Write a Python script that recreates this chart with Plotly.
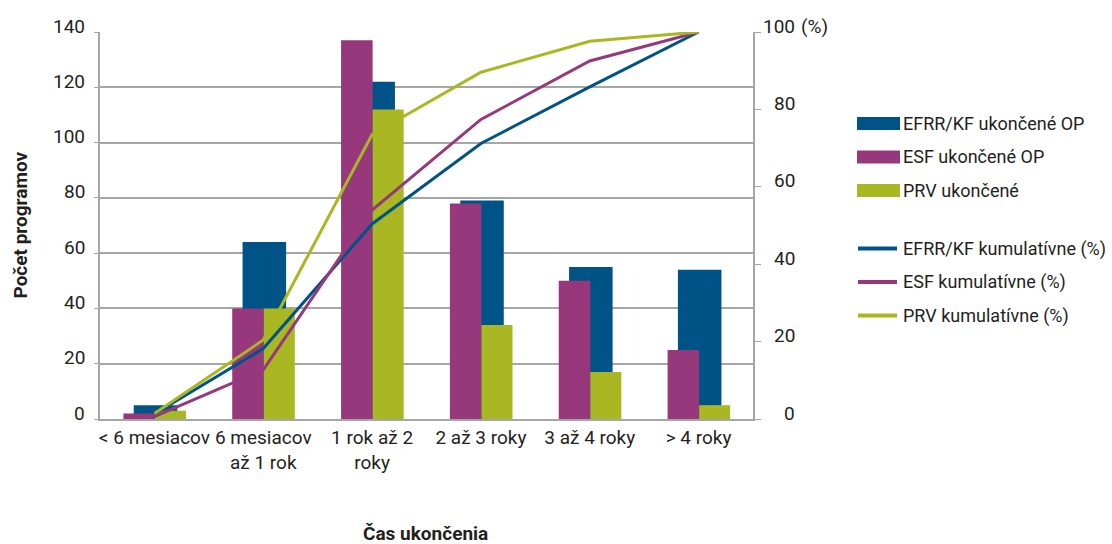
import plotly.graph_objects as go

categories = ["< 6 mesiacov", "6 mesiacov<br>až 1 rok", "1 rok až 2<br>roky",
              "2 až 3 roky", "3 až 4 roky", "> 4 roky"]
efrr_bars = [5, 64, 122, 79, 55, 54]
esf_bars = [2, 40, 137, 78, 50, 25]
prv_bars = [3, 40, 112, 34, 17, 5]
efrr_cum = [1.3, 18.2, 50.4, 71.2, 85.8, 100]
esf_cum = [0.6, 12.7, 54.0, 77.4, 92.5, 100]
prv_cum = [1.4, 20.4, 73.5, 89.6, 97.6, 100]
left_ticks = [0, 20, 40, 60, 80, 100, 120, 140]
right_ticks = [0, 20, 40, 60, 80, 100]
bar_names = ["EFRR/KF ukončené OP", "ESF ukončené OP", "PRV ukončené"]
line_names = ["EFRR/KF kumulatívne (%)", "ESF kumulatívne (%)", "PRV kumulatívne (%)"]

BLUE = "rgb(0,83,134)"
PURPLE = "rgb(150,56,123)"
GREEN = "rgb(169,183,34)"
TXT = "#231f20"
GRID = "#a6a6a6"
FONT = "Roboto, Liberation Sans, sans-serif"
FS = 19
FL = 18
FT = 19

x = list(range(len(categories)))
fig = go.Figure()
fig.add_trace(go.Bar(x=x, y=efrr_bars, name=bar_names[0], marker_color=BLUE,
                     marker_line_width=0, offset=-0.19, width=0.4))
fig.add_trace(go.Bar(x=x, y=esf_bars, name=bar_names[1], marker_color=PURPLE,
                     marker_line_width=0, offset=-0.285, width=0.29))
fig.add_trace(go.Bar(x=x, y=prv_bars, name=bar_names[2], marker_color=GREEN,
                     marker_line_width=0, offset=0.005, width=0.285))
for vals, col, nm in [(efrr_cum, BLUE, line_names[0]), (esf_cum, PURPLE, line_names[1]),
                      (prv_cum, GREEN, line_names[2])]:
    fig.add_trace(go.Scatter(x=x, y=vals, name=nm, mode="lines", yaxis="y2",
                             line=dict(color=col, width=3)))

W, H = 1112, 544
L, R, T, B = 100, 359, 32, 125
fig.update_layout(
    width=W, height=H, barmode="overlay", showlegend=False,
    margin=dict(l=L, r=R, t=T, b=B, autoexpand=False),
    paper_bgcolor="white", plot_bgcolor="white",
    font=dict(family=FONT, size=FS, color=TXT),
    xaxis=dict(range=[-0.5, 5.5], tickmode="array", tickvals=x, ticktext=categories,
               showgrid=False, showline=True, linecolor=GRID, linewidth=2,
               ticks="", tickangle=0, tickfont=dict(size=FS, color=TXT), zeroline=False),
    yaxis=dict(range=[0, 140], tickvals=left_ticks, showgrid=True, gridcolor=GRID,
               gridwidth=1.5, showline=True, linecolor=GRID, linewidth=1.5,
               ticks="outside", ticklen=4, tickcolor=GRID, zeroline=False,
               showticklabels=False),
    yaxis2=dict(range=[0, 100], overlaying="y", side="right", tickvals=right_ticks,
                showgrid=False, showline=True, linecolor=GRID, linewidth=1.5,
                ticks="outside", ticklen=6, tickcolor=GRID, showticklabels=False,
                zeroline=False),
)

def px(xp):
    return (xp - L) / (W - L - R)
def py(yp):
    return (H - B - yp) / (H - T - B)

ann = []
for v in left_ticks:
    ann.append(dict(xref="paper", yref="y", x=px(87), y=v, text=str(v),
                    showarrow=False, xanchor="right", yanchor="middle", yshift=6,
                    font=dict(size=FS, color=TXT)))
for v in right_ticks:
    ann.append(dict(xref="paper", yref="y2", x=px(797), y=v,
                    text=str(v), showarrow=False, xanchor="right", yanchor="middle",
                    yshift=6, font=dict(size=FS, color=TXT)))
ann.append(dict(xref="paper", yref="y2", x=px(797), y=100,
                text="(%)", showarrow=False, xanchor="left", yanchor="middle",
                yshift=6, xshift=2, font=dict(size=FS, color=TXT)))
ann.append(dict(xref="paper", yref="paper", x=px(20), y=0.5,
                text="<b>Počet programov</b>", textangle=-90, showarrow=False,
                xanchor="center", yanchor="middle", font=dict(size=FT, color=TXT)))
ann.append(dict(xref="paper", yref="paper", x=px(425), y=py(533),
                text="<b>Čas ukončenia</b>", showarrow=False, xanchor="center",
                yanchor="middle", font=dict(size=FT, color=TXT)))

shapes = []
bar_cols = [BLUE, PURPLE, GREEN]
bar_rows = [123.5, 157, 190.5]
for nm, col, yc in zip(bar_names, bar_cols, bar_rows):
    shapes.append(dict(type="rect", xref="paper", yref="paper", x0=px(857), x1=px(900),
                       y0=py(yc - 6.5), y1=py(yc + 6.5), fillcolor=col, line_width=0))
    ann.append(dict(xref="paper", yref="paper", x=px(901), y=py(yc), text=nm,
                    showarrow=False, xanchor="left", yanchor="middle",
                    font=dict(size=FL, color=TXT)))
line_rows = [248.5, 282, 315.5]
for nm, col, yc in zip(line_names, bar_cols, line_rows):
    shapes.append(dict(type="line", xref="paper", yref="paper", x0=px(858), x1=px(897),
                       y0=py(yc), y1=py(yc), line=dict(color=col, width=4)))
    ann.append(dict(xref="paper", yref="paper", x=px(901), y=py(yc), text=nm,
                    showarrow=False, xanchor="left", yanchor="middle",
                    font=dict(size=FL, color=TXT)))

fig.update_layout(annotations=ann, shapes=shapes)
fig.write_html("out.html")
